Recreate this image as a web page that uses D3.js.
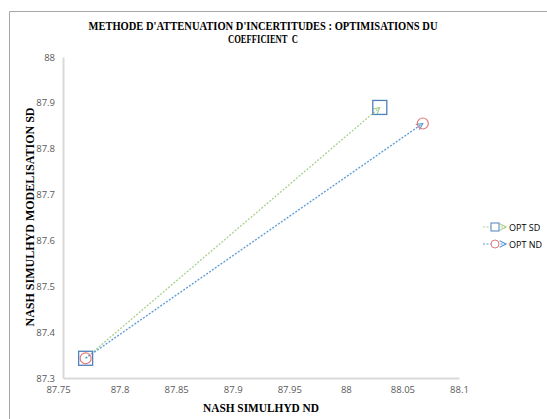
<!DOCTYPE html>
<html><head><meta charset="utf-8">
<script src="https://cdn.jsdelivr.net/npm/d3@7"></script>
<style>body{margin:0;background:#fff}svg{display:block}</style>
</head><body>
<svg id="c" width="547" height="419"></svg>
<script>
const seriesNames = ["OPT SD", "OPT ND"];
const sdX = [87.77, 88.03];
const sdY = [87.343, 87.89];
const ndX = [87.77, 88.068];
const ndY = [87.343, 87.855];
const xTicks = [87.75, 87.8, 87.85, 87.9, 87.95, 88, 88.05, 88.1];
const yTicks = [87.3, 87.4, 87.5, 87.6, 87.7, 87.8, 87.9, 88];
const colors = {line: ["#a9d18e", "#5b9bd5"], marker: ["#4f81bd", "#e07b7b"]};

const svg = d3.select("#c");
const x = d3.scaleLinear().domain([87.75, 88.1]).range([63, 459]);
const y = d3.scaleLinear().domain([87.3, 88]).range([378, 57]);

// outer border (top & left)
svg.append("path").attr("d","M9.5,419 V11.5 H547").attr("fill","none").attr("stroke","#a6a6a6").attr("stroke-width",1);

const defs = svg.append("defs");
["g","b"].forEach((k,i)=>{
  defs.append("marker").attr("id","arr"+k).attr("viewBox","0 0 10 10").attr("refX",9).attr("refY",5)
    .attr("markerWidth",8).attr("markerHeight",8).attr("markerUnits","userSpaceOnUse").attr("orient","auto")
    .append("path").attr("d","M1,1 L9,5 L1,9").attr("fill","none").attr("stroke",colors.line[i]).attr("stroke-width",1.4);
});

// axes
const xAxis = svg.append("g").attr("transform","translate(0,378)")
  .call(d3.axisBottom(x).tickValues(xTicks).tickSize(0).tickPadding(8).tickFormat(d=>String(+d.toFixed(2))));
const yAxis = svg.append("g").attr("transform","translate(63,0)")
  .call(d3.axisLeft(y).tickValues(yTicks).tickSize(0).tickPadding(8).tickFormat(d=>String(+d.toFixed(1))));
[xAxis,yAxis].forEach(a=>{
  a.select(".domain").attr("stroke","#d9d9d9").attr("stroke-width",2);
  a.selectAll("text").attr("fill","#595959").style("font-family","'Open Sans', 'Liberation Sans', sans-serif").style("font-size","9.5px");
});
xAxis.selectAll(".tick").filter(d=>d===87.75).select("text").attr("dx",-5);

// lines
const series = [{xs:sdX, ys:sdY, k:"g"}, {xs:ndX, ys:ndY, k:"b"}];
const line = d3.line().x(d=>x(d[0])).y(d=>y(d[1]));
series.forEach((s,i)=>{
  const pts = s.xs.map((v,j)=>[v,s.ys[j]]);
  svg.append("path").attr("d",line(pts)).attr("fill","none").attr("stroke",colors.line[i])
    .attr("stroke-width",1.3).attr("stroke-dasharray","2,1.5").attr("marker-end","url(#arr"+s.k+")");
});
// markers
series.forEach((s,i)=>{
  s.xs.forEach((v,j)=>{
    if(i===0){
      svg.append("rect").attr("x",x(v)-7).attr("y",y(s.ys[j])-7).attr("width",14).attr("height",14)
        .attr("fill","none").attr("stroke",colors.marker[0]).attr("stroke-width",1.3);
    } else {
      svg.append("circle").attr("cx",x(v)).attr("cy",y(s.ys[j])).attr("r",5.5)
        .attr("fill","none").attr("stroke",colors.marker[1]).attr("stroke-width",1.2);
    }
  });
});

// titles
const tf = "'Liberation Serif','Times New Roman',serif";
function ttl(xp, yp, txt, len, rot){
  const t = svg.append("text").attr("text-anchor","middle").style("font-family",tf)
    .style("font-weight","bold").style("font-size","12px").attr("fill","#000")
    .attr("textLength",len).attr("lengthAdjust","spacingAndGlyphs").style("white-space","pre").text(txt);
  if(rot) t.attr("transform",`translate(${xp},${yp}) rotate(-90)`);
  else t.attr("x",xp).attr("y",yp);
}
ttl(263, 30, "METHODE D'ATTENUATION D'INCERTITUDES : OPTIMISATIONS DU", 349);
ttl(263, 43, "COEFFICIENT\u00a0\u00a0C", 70);
ttl(261, 412, "NASH SIMULHYD ND", 116);
ttl(34, 217, "NASH SIMULHYD MODELISATION SD", 219, true);

// legend
series.forEach((s,i)=>{
  const ly = 227 + i*17;
  svg.append("line").attr("x1",483).attr("x2",506).attr("y1",ly).attr("y2",ly).attr("stroke",colors.line[i])
    .attr("stroke-width",1.2).attr("stroke-dasharray","2,1.5").attr("marker-end","url(#arr"+s.k+")");
  if(i===0) svg.append("rect").attr("x",491).attr("y",ly-4).attr("width",8).attr("height",8).attr("fill","#fff").attr("stroke",colors.marker[0]);
  else svg.append("circle").attr("cx",495).attr("cy",ly).attr("r",4).attr("fill","#fff").attr("stroke",colors.marker[1]);
  svg.append("text").attr("x",509).attr("y",ly+3.5).style("font-family","'Open Sans','Liberation Sans',sans-serif")
    .style("font-size","9px").attr("fill","#000").text(seriesNames[i]);
});
</script>
</body></html>
